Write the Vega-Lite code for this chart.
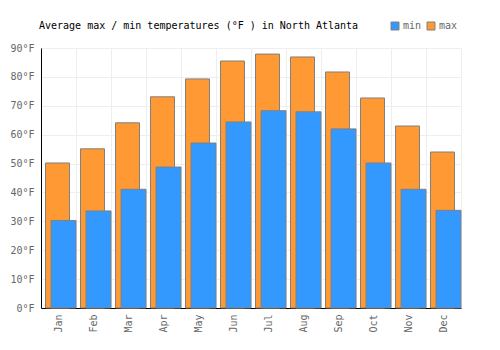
{
  "$schema": "https://vega.github.io/schema/vega-lite/v6.json",
  "width": 420,
  "height": 260,
  "autosize": {"type": "none"},
  "padding": {"left": 41, "top": 48, "right": 39, "bottom": 42},
  "background": "white",
  "title": {
    "text": "Average max / min temperatures (°F ) in North Atlanta",
    "anchor": "start",
    "frame": "group",
    "offset": -10,
    "dx": -2,
    "font": "DejaVu Sans Mono",
    "fontSize": 10,
    "fontWeight": "normal",
    "color": "#000000"
  },
  "config": {
    "font": "DejaVu Sans Mono",
    "view": {"stroke": "#eeeeee", "strokeWidth": 1},
    "axisY": {
      "title": null,
      "values": [0, 10, 20, 30, 40, 50, 60, 70, 80, 90],
      "labelExpr": "datum.value + '°F'",
      "labelFontSize": 10,
      "labelColor": "#666666",
      "labelPadding": 7,
      "labelOverlap": false,
      "ticks": false,
      "grid": true,
      "gridColor": "#eeeeee",
      "domainColor": "#000000",
      "domainWidth": 1
    }
  },
  "data": {
    "values": [
      {"month": "Jan", "min": 30.3, "max": 50.2},
      {"month": "Feb", "min": 33.6, "max": 55.1},
      {"month": "Mar", "min": 41.1, "max": 64.1},
      {"month": "Apr", "min": 48.8, "max": 73.1},
      {"month": "May", "min": 57.1, "max": 79.3},
      {"month": "Jun", "min": 64.4, "max": 85.5},
      {"month": "Jul", "min": 68.3, "max": 87.9},
      {"month": "Aug", "min": 67.9, "max": 86.9},
      {"month": "Sep", "min": 62.0, "max": 81.7},
      {"month": "Oct", "min": 50.2, "max": 72.7},
      {"month": "Nov", "min": 41.1, "max": 63.0},
      {"month": "Dec", "min": 33.8, "max": 54.0}
    ]
  },
  "encoding": {
    "x": {
      "field": "month",
      "type": "nominal",
      "sort": null,
      "scale": {"paddingInner": 0, "paddingOuter": 0},
      "axis": {
        "title": null,
        "labelAngle": 270,
        "labelAlign": "right",
        "labelBaseline": "middle",
        "labelFontSize": 10,
        "labelColor": "#666666",
        "labelPadding": 6,
        "ticks": false,
        "tickBand": "extent",
        "grid": true,
        "gridColor": "#eeeeee",
        "domainColor": "#000000",
        "domainWidth": 1
      }
    }
  },
  "layer": [
    {
      "mark": {"type": "bar", "width": 24, "xOffset": -1, "stroke": "#808080", "strokeWidth": 1, "opacity": 1},
      "encoding": {
        "y": {
          "field": "max",
          "type": "quantitative",
          "scale": {"domain": [0, 90], "nice": false}
        },
        "color": {
          "datum": "max",
          "scale": {"domain": ["min", "max"], "range": ["#3399ff", "#ff9933"]},
          "legend": {
            "title": null,
            "orient": "none",
            "legendX": 349,
            "legendY": -27,
            "direction": "horizontal",
            "symbolType": "square",
            "symbolSize": 64,
            "symbolStrokeColor": "#808080",
            "symbolStrokeWidth": 1,
            "symbolOpacity": 1,
            "labelFontSize": 10,
            "labelColor": "#666666",
            "labelOffset": 3,
            "columnPadding": 3
          }
        }
      }
    },
    {
      "mark": {"type": "bar", "width": 25, "xOffset": 5, "stroke": "#808080", "strokeWidth": 1, "opacity": 1},
      "encoding": {
        "y": {"field": "min", "type": "quantitative"},
        "color": {"datum": "min"}
      }
    }
  ]
}
